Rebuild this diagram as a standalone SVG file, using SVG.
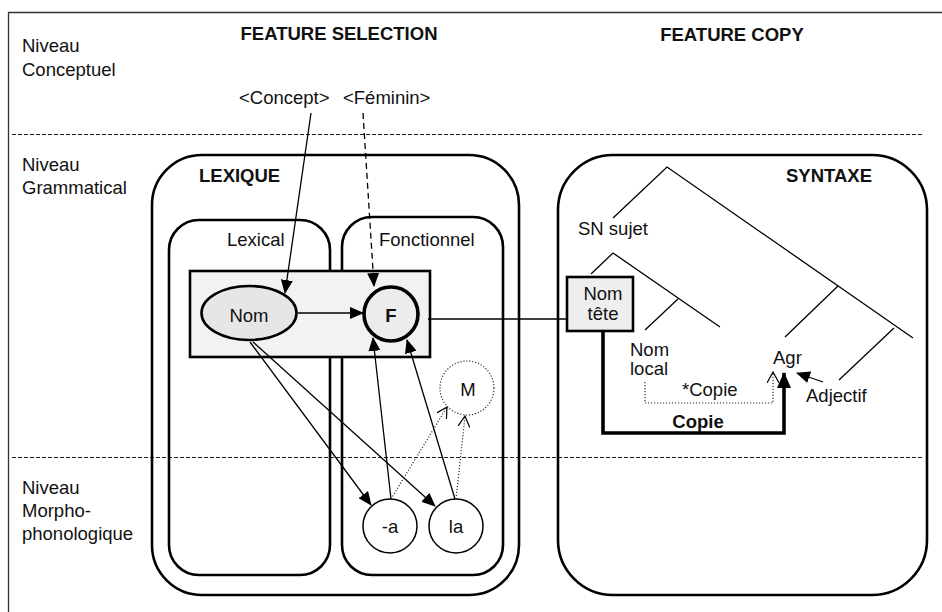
<svg xmlns="http://www.w3.org/2000/svg" width="942" height="612" viewBox="0 0 942 612">
<style>
text{font-family:"Liberation Sans",Arial,sans-serif;font-size:18.5px;fill:#111}
.b{font-weight:bold}
.c{text-anchor:middle}
.box{fill:none;stroke:#000;stroke-width:2.6}
.ln{fill:none;stroke:#000;stroke-width:1.3}
.dash{fill:none;stroke:#222;stroke-width:1.1;stroke-dasharray:4 2}
.dot{fill:none;stroke:#333;stroke-width:1.2;stroke-dasharray:1.2 1.8}
</style>
<defs>
<marker id="ah" markerUnits="userSpaceOnUse" markerWidth="14" markerHeight="12" refX="13" refY="6" orient="auto">
<path d="M0,0 L14,6 L0,12 z" fill="#000"/>
</marker>
<marker id="ahb" markerUnits="userSpaceOnUse" markerWidth="16" markerHeight="14" refX="15" refY="7" orient="auto">
<path d="M0,0 L16,7 L0,14 z" fill="#000"/>
</marker>
<marker id="ao" markerUnits="userSpaceOnUse" markerWidth="12" markerHeight="12" refX="11" refY="6" orient="auto">
<path d="M0,0 L11,6 L0,12" fill="none" stroke="#000" stroke-width="1.2"/>
</marker>
</defs>
<rect width="942" height="612" fill="#fff"/>
<g id="frame">
<path d="M8.5,612 V12.5 H942" fill="none" stroke="#333" stroke-width="1.3"/>
<line class="dash" x1="12" y1="134.5" x2="924" y2="134.5"/>
<line class="dash" x1="12" y1="457.5" x2="923" y2="457.5"/>
</g>
<g id="labels">
<text x="22" y="52">Niveau</text>
<text x="22" y="76">Conceptuel</text>
<text x="22" y="171">Niveau</text>
<text x="22" y="194">Grammatical</text>
<text x="22" y="494">Niveau</text>
<text x="22" y="517">Morpho-</text>
<text x="22" y="540">phonologique</text>
<text class="b c" x="339" y="40">FEATURE SELECTION</text>
<text class="b c" x="732" y="41">FEATURE COPY</text>
<text x="239" y="104">&lt;Concept&gt;</text>
<text x="343" y="104">&lt;Féminin&gt;</text>
</g>
<g id="lexique">
<rect class="box" x="152" y="155" width="367" height="440" rx="50"/>
<text class="b" x="199" y="182">LEXIQUE</text>
</g>
<g id="lexical">
<rect class="box" x="169" y="220" width="161" height="355" rx="30"/>
<text x="227" y="246">Lexical</text>
</g>
<g id="fonctionnel">
<rect class="box" x="342" y="217" width="161" height="358" rx="30"/>
<text x="379" y="246">Fonctionnel</text>
</g>
<g id="selection">
<rect x="190" y="271" width="240" height="86" fill="#f2f2f2" stroke="#000" stroke-width="2.6"/>
</g>
<g id="nom">
<ellipse cx="249" cy="313" rx="47.5" ry="27" fill="#e6e6e6" stroke="#000" stroke-width="2.6"/>
<text class="c" x="249" y="322">Nom</text>
</g>
<g id="f">
<circle cx="391" cy="314" r="27" fill="#ececec" stroke="#000" stroke-width="3.6"/>
<text class="b c" x="391" y="322">F</text>
</g>
<g id="m">
<circle cx="467" cy="388" r="27" fill="#fff" stroke="#333" stroke-width="1.2" stroke-dasharray="1.2 1.8"/>
<text class="c" x="468" y="396">M</text>
</g>
<g id="a">
<circle cx="390" cy="526" r="27" fill="#fff" stroke="#000" stroke-width="1.5"/>
<text class="c" x="390" y="533">-a</text>
</g>
<g id="la">
<circle cx="456" cy="526" r="27" fill="#fff" stroke="#000" stroke-width="1.5"/>
<text class="c" x="456" y="533">la</text>
</g>
<g id="syntaxe">
<rect class="box" x="558" y="155" width="369" height="440" rx="55"/>
<text class="b" x="786" y="182">SYNTAXE</text>
</g>
<g id="tree">
<path class="ln" d="M613,218 L667,167 L913,338"/>
<path class="ln" d="M591,274 L613,253 L720,327"/>
<line class="ln" x1="678" y1="299" x2="645" y2="330"/>
<line class="ln" x1="838" y1="286" x2="785" y2="337"/>
<line class="ln" x1="894" y1="328" x2="839" y2="380"/>
<text x="578" y="235">SN sujet</text>
<text x="630" y="356">Nom</text>
<text x="630" y="375">local</text>
<text x="773" y="364">Agr</text>
<text x="806" y="402">Adjectif</text>
</g>
<g id="nomtete">
<rect x="567" y="277" width="66" height="54" fill="#eeeeee" stroke="#000" stroke-width="2.6"/>
<text class="c" x="603" y="300">Nom</text>
<text class="c" x="603" y="320">tête</text>
</g>
<g id="connectors">
<line class="ln" x1="311" y1="113" x2="285" y2="293" marker-end="url(#ah)"/>
<line x1="363" y1="113" x2="374" y2="286" fill="none" stroke="#000" stroke-width="1.3" stroke-dasharray="6 4" marker-end="url(#ah)"/>
<line class="ln" x1="298" y1="313" x2="363" y2="313" marker-end="url(#ah)"/>
<line class="ln" x1="250" y1="342" x2="371" y2="505" marker-end="url(#ah)"/>
<line class="ln" x1="253" y1="342" x2="435" y2="506" marker-end="url(#ah)"/>
<line class="ln" x1="391" y1="499" x2="373" y2="338" marker-end="url(#ah)"/>
<line class="ln" x1="455" y1="499" x2="407" y2="340" marker-end="url(#ah)"/>
<line class="dot" x1="391" y1="499" x2="447" y2="407" marker-end="url(#ao)"/>
<line class="dot" x1="456" y1="499" x2="465" y2="416" marker-end="url(#ao)"/>
<line class="ln" x1="428" y1="319" x2="567" y2="319"/>
<path d="M603,331 V433 H784 V373" fill="none" stroke="#000" stroke-width="3.6" marker-end="url(#ahb)"/>
<text class="b c" x="698" y="428">Copie</text>
<path class="dot" d="M645,382 V403 H773 V372" marker-end="url(#ao)"/>
<text x="682" y="396">*Copie</text>
<line class="ln" x1="823" y1="382" x2="797" y2="373" marker-end="url(#ah)"/>
</g>
</svg>
